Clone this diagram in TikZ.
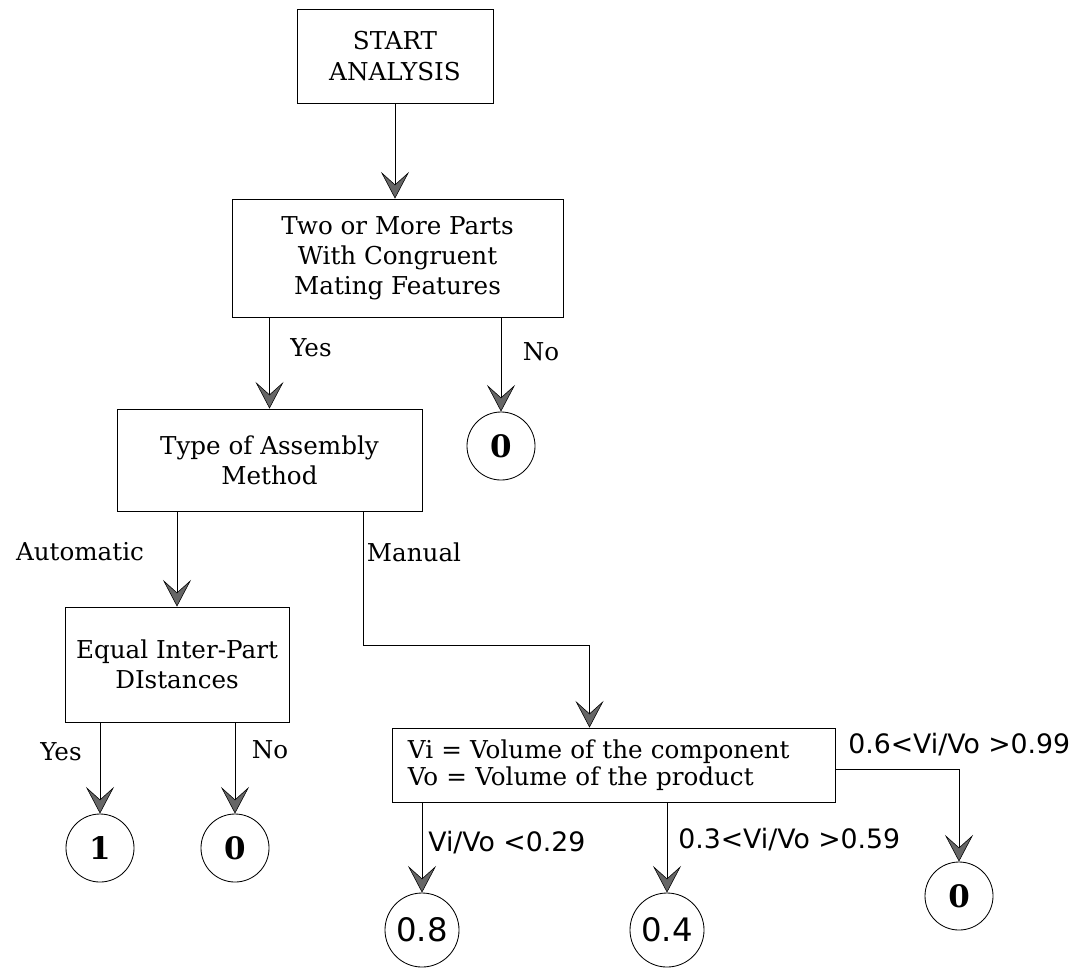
\documentclass[tikz,border=0pt]{standalone}
\usepackage{fontspec}
\setmainfont{DejaVu Serif}
\newfontfamily\ratiofont{DejaVu Sans}
\usetikzlibrary{arrows.meta}
\begin{document}
\begin{tikzpicture}[x=0.025cm, y=-0.025cm,
	box/.style={draw, line width=.6pt, align=center, inner sep=0pt, font=\fontsize{17.5}{21.5}\selectfont},
	leaf/.style={draw, circle, line width=.6pt, minimum size=1.7cm, inner sep=0pt, font=\fontsize{22}{24}\selectfont\bfseries},
	bigleaf/.style={leaf, minimum size=1.85cm, font=\ratiofont\fontsize{23}{26}\selectfont},
	arr/.style={line width=.6pt, -{Stealth[length=19pt, width=20pt, inset=9pt, fill=black!60, line width=.4pt]}},
	lbl/.style={inner sep=0pt, font=\fontsize{17.5}{21.5}\selectfont},
	ratio/.style={inner sep=0pt, anchor=west, font=\ratiofont\fontsize{19}{21.5}\selectfont}]
	\useasboundingbox (0,0) rectangle (1082,968);
	% boxes
	\node[box, minimum width=4.9cm, minimum height=2.35cm] (start) at (395,56) {START\\ANALYSIS};
	\node[box, minimum width=8.275cm, minimum height=2.95cm] (parts) at (397.5,258) {Two or More Parts\\With Congruent\\Mating Features};
	\node[box, minimum width=7.625cm, minimum height=2.55cm] (method) at (269.5,460) {Type of Assembly\\Method};
	\node[box, minimum width=5.6cm, minimum height=2.875cm] (equal) at (177,664.5) {Equal Inter-Part\\DIstances};
	\node[box, text width=10.275cm, inner xsep=.4cm, minimum height=1.85cm, align=left, font=\fontsize{17.5}{19}\selectfont] (volume) at (613.5,765) {Vi = Volume of the component\\Vo = Volume of the product};
	% end values
	\node[leaf] (noparts) at (501,446) {0};
	\node[leaf] (equalyes) at (100,848) {1};
	\node[leaf] (equalno) at (235,848) {0};
	\node[bigleaf] (small) at (422,930) {0.8};
	\node[bigleaf] (medium) at (667,930) {0.4};
	\node[leaf] (large) at (959,896) {0};
	\coordinate (manual) at (363,645);
	% connectors
	\draw[arr] (start.south) -- (start.south |- parts.north);
	\draw[arr] (method.north |- parts.south) -- (method.north);
	\draw[arr] (noparts.north |- parts.south) -- (noparts);
	\draw[arr] (equal.north |- method.south) -- (equal.north);
	\draw[arr] (manual |- method.south) -- (manual) -| ([xshift=-.6cm]volume.north);
	\draw[arr] (equalyes.north |- equal.south) -- (equalyes);
	\draw[arr] (equalno.north |- equal.south) -- (equalno);
	\draw[arr] (small.north |- volume.south) -- (small);
	\draw[arr] (medium.north |- volume.south) -- (medium);
	\draw[arr] ([yshift=-.12cm]volume.east) -| (large);
	% labels
	\node[lbl] (yes1) at (311,348) {Yes};
	\node[lbl] (no1) at (541,352) {No};
	\node[lbl] (auto) at (80,552) {Automatic};
	\node[lbl] (hand) at (414,552) {Manual};
	\node[lbl] (yes2) at (61,752) {Yes};
	\node[lbl] (no2) at (270,750) {No};
	\node[ratio] (low) at (428,843) {Vi/Vo <0.29};
	\node[ratio] (mid) at (678,840) {0.3<Vi/Vo >0.59};
	\node[ratio] (high) at (848,745) {0.6<Vi/Vo >0.99};
\end{tikzpicture}
\end{document}
